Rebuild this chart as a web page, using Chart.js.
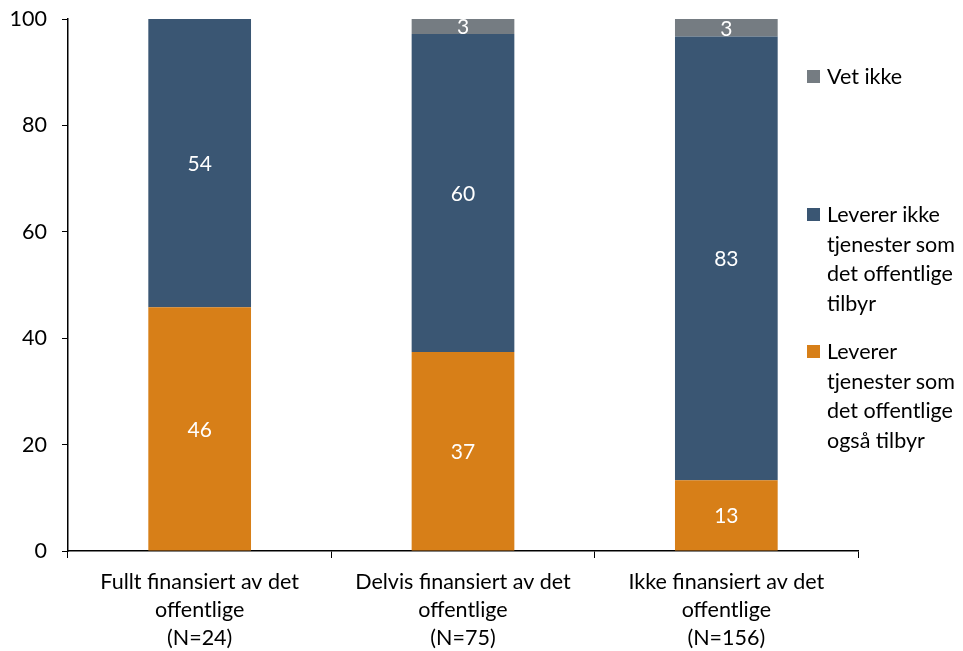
<!DOCTYPE html>
<html>
<head>
<meta charset="utf-8">
<script src="https://cdn.jsdelivr.net/npm/chart.js@4.4.0/dist/chart.umd.min.js"></script>
<style>
  html, body { margin: 0; padding: 0; background: #fff; }
  #wrap { position: relative; width: 963px; height: 651px; }
  canvas { position: absolute; left: 0; top: 0; }
  .leg { position: absolute; font-family: Lato, "Open Sans", sans-serif; font-size: 21.5px; color: #000; line-height: 29.5px; }
  .leg .sw { position: absolute; left: -20px; top: 8px; width: 13px; height: 13px; }
</style>
</head>
<body>
<div id="wrap">
  <canvas id="c" width="963" height="651"></canvas>
</div>
<script>
const categories = [
  ["Fullt finansiert av det", "offentlige", "(N=24)"],
  ["Delvis finansiert av det", "offentlige", "(N=75)"],
  ["Ikke finansiert av det", "offentlige", "(N=156)"]
];
const seriesNames = [
  "Leverer tjenester som det offentlige også tilbyr",
  "Leverer ikke tjenester som det offentlige tilbyr",
  "Vet ikke"
];
const legendLines = [
  ["Leverer", "tjenester som", "det offentlige", "også tilbyr"],
  ["Leverer ikke", "tjenester som", "det offentlige", "tilbyr"],
  ["Vet ikke"]
];
const alsoOffer = [45.8, 37.4, 13.3];
const notOffer = [54.2, 59.8, 83.4];
const dontKnow = [0, 2.8, 3.3];
const yTicks = [0, 20, 40, 60, 80, 100];
const colors = ["#D77F18", "#3A5673", "#757C82"];

const FONT = "Lato, 'Open Sans', sans-serif";

const labelPlugin = {
  id: 'segLabels',
  afterDatasetsDraw(chart) {
    const ctx = chart.ctx;
    ctx.save();
    ctx.fillStyle = '#fff';
    ctx.font = "21px " + FONT;
    ctx.textAlign = 'center';
    ctx.textBaseline = 'middle';
    chart.data.datasets.forEach((ds, i) => {
      const meta = chart.getDatasetMeta(i);
      meta.data.forEach((bar, j) => {
        const v = ds.data[j];
        if (!v) return;
        const p = bar.getProps(['x', 'y', 'base'], true);
        ctx.fillText(String(Math.round(v)), p.x, (p.y + p.base) / 2 + 1);
      });
    });
    ctx.restore();
  }
};

new Chart(document.getElementById('c'), {
  type: 'bar',
  data: {
    labels: categories,
    datasets: [
      { label: seriesNames[0], data: alsoOffer, backgroundColor: colors[0] },
      { label: seriesNames[1], data: notOffer, backgroundColor: colors[1] },
      { label: seriesNames[2], data: dontKnow, backgroundColor: colors[2] }
    ]
  },
  options: {
    responsive: false,
    animation: false,
    devicePixelRatio: 1,
    layout: { padding: { top: 19, right: 105, left: 0, bottom: 0 } },
    datasets: { bar: { categoryPercentage: 1, barPercentage: 0.39 } },
    plugins: { legend: { display: false }, tooltip: { enabled: false } },
    scales: {
      x: {
        stacked: true,
        afterFit(s) { s.height = 100; s.paddingLeft = 0; s.paddingRight = 0; },
        grid: { offset: true, drawOnChartArea: false, drawTicks: true, tickLength: 7, color: '#000', lineWidth: 1 },
        border: { color: '#000', width: 1.5 },
        ticks: { color: '#000', font: { family: FONT, size: 21.5, lineHeight: 1.3 }, padding: 10, maxRotation: 0, autoSkip: false }
      },
      y: {
        stacked: true,
        min: 0, max: 100,
        afterFit(s) { s.width = 68; s.paddingTop = 0; s.paddingBottom = 0; },
        afterBuildTicks(s) { s.ticks = yTicks.map(v => ({ value: v })); },
        grid: { drawOnChartArea: false, drawTicks: true, tickLength: 6, color: '#000', lineWidth: 1 },
        border: { color: '#000', width: 1.5 },
        ticks: { color: '#000', font: { family: FONT, size: 21.5 }, padding: 15 }
      }
    }
  },
  plugins: [labelPlugin]
});

// HTML legend (real text)
const wrap = document.getElementById('wrap');
const legendPos = [
  { idx: 2, top: 62 },
  { idx: 1, top: 200 },
  { idx: 0, top: 337 }
];
legendPos.forEach(p => {
  const d = document.createElement('div');
  d.className = 'leg';
  d.style.left = '827px';
  d.style.top = p.top + 'px';
  const sw = document.createElement('div');
  sw.className = 'sw';
  sw.style.background = colors[p.idx];
  d.appendChild(sw);
  legendLines[p.idx].forEach(t => {
    const l = document.createElement('div');
    l.textContent = t;
    d.appendChild(l);
  });
  wrap.appendChild(d);
});
</script>
</body>
</html>
